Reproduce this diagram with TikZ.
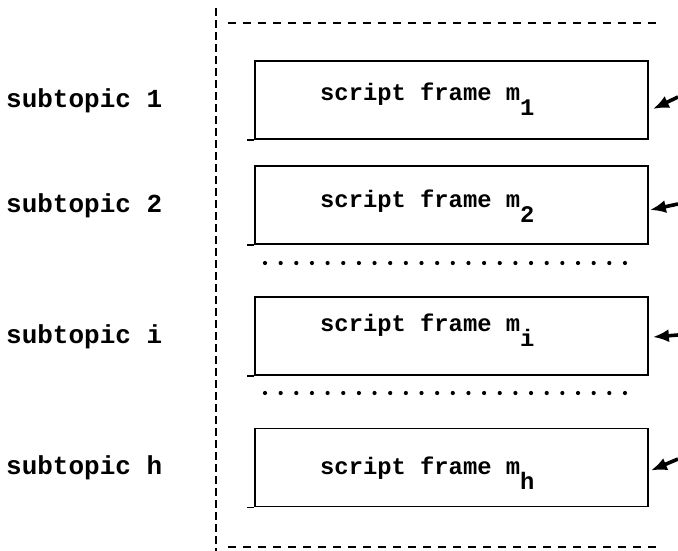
\documentclass[tikz,border=0pt]{standalone}
\usepackage{fontspec}
\setmonofont{Liberation Mono}
\usetikzlibrary{arrows.meta}
\begin{document}
\begin{tikzpicture}[x=1pt,y=-1pt,
  frame/.style={draw, line width=1.8pt, minimum width=393pt, minimum height=78pt, inner sep=0pt},
  scripttext/.style={anchor=base west, inner sep=0pt, font=\ttfamily\bfseries\fontsize{23.8}{28}\selectfont},
  topic/.style={anchor=base west, inner sep=0pt, font=\ttfamily\bfseries\fontsize{26}{30}\selectfont},
  arr/.style={line width=3.6pt, -{Latex[length=16pt,width=13pt]}},
  hdash/.style={line width=2pt, dash pattern=on 8pt off 7pt},
  vdash/.style={line width=1.6pt, dash pattern=on 8pt off 4pt},
  dotmark/.style={circle, fill, inner sep=0pt, minimum size=4.2pt}
]
\useasboundingbox (0,0) rectangle (678,551);

% separators
\coordinate (vtop) at (216,8);
\coordinate (vbot) at (216,551);
\coordinate (htl) at (228,23);
\coordinate (htr) at (662,23);
\coordinate (hbl) at (228,547);
\coordinate (hbr) at (662,547);
\draw[vdash] (vtop) -- (vbot);
\draw[hdash] (htl) -- (htr);
\draw[hdash] (hbl) -- (hbr);

% frames
\node[frame] (b1) at (451.5,100) {};
\node[frame] (b2) at (451.5,205) {};
\node[frame] (bi) at (451.5,336) {};
\node[frame] (bh) at (451.5,467.5) {};
\foreach \b in {b1,b2,bi,bh}{
  \draw[line width=1.8pt] (\b.south west) -- ++(-7,0);
}

% frame texts
\newcommand{\mysub}[1]{\raisebox{-15pt}{#1}}
\node[scripttext] (s1) at (320,101) {script frame m\mysub{1}};
\node[scripttext] (s2) at (320,207) {script frame m\mysub{2}};
\node[scripttext] (si) at (320,331) {script frame m\mysub{i}};
\node[scripttext] (sh) at (320,474) {script frame m\mysub{h}};

% subtopic labels
\node[topic] (l1) at (6,107) {subtopic 1};
\node[topic] (l2) at (6,212) {subtopic 2};
\node[topic] (li) at (6,343) {subtopic i};
\node[topic] (lh) at (6,474) {subtopic h};

% dotted rows
\foreach \k in {0,...,23}{
  \node[dotmark] (da\k) at (265+\k*15.65,263) {};
  \node[dotmark] (db\k) at (265+\k*15.65,393) {};
}

% arrows
\coordinate (a1) at (678,97);
\coordinate (a2) at (678,204);
\coordinate (ai) at (678,335);
\coordinate (ah) at (678,459);
\draw[arr] (a1) -- ([shift={(4,9)}]b1.east);
\draw[arr] (a2) -- ([shift={(1,5)}]b2.east);
\draw[arr] (ai) -- ([shift={(4,1)}]bi.east);
\draw[arr] (ah) -- ([shift={(2,3)}]bh.east);
\end{tikzpicture}
\end{document}
